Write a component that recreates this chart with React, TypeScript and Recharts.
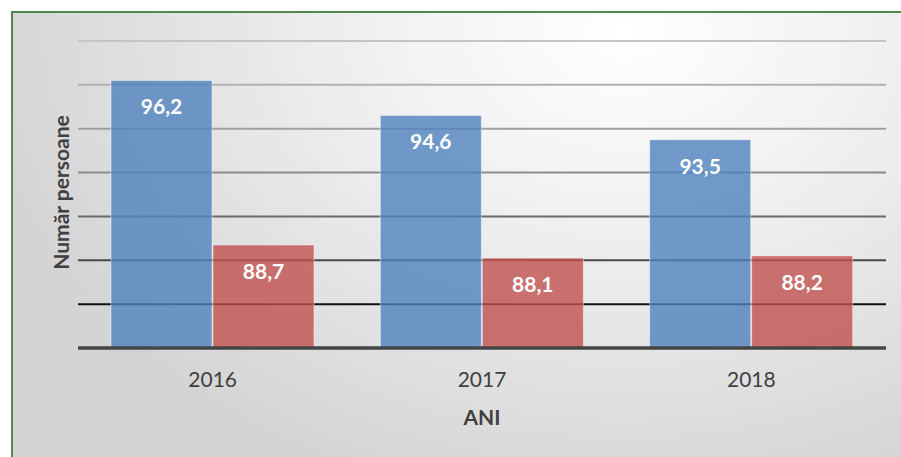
import { BarChart, Bar, XAxis, YAxis, CartesianGrid, LabelList } from "recharts";

const years = ["2016", "2017", "2018"];
const seriesA = [96.2, 94.6, 93.5];
const seriesB = [88.7, 88.1, 88.2];
const yTicks = [84, 86, 88, 90, 92, 94, 96, 98];

const data = years.map((year, i) => ({ year, a: seriesA[i], b: seriesB[i] }));

const FONT = "Lato, 'Open Sans', sans-serif";
const fmt = (v: any) => String(v).replace(".", ",");

// grid lines go from light gray at the top to near black at the bottom
const gridShade = (t: number) => {
    const stops: [number, number][] = [[0, 196], [0.5, 140], [0.83, 74], [1, 17]];
    for (let i = 1; i < stops.length; i++) {
        if (t <= stops[i][0]) {
            const [t0, c0] = stops[i - 1];
            const [t1, c1] = stops[i];
            const c = Math.round(c0 + ((c1 - c0) * (t - t0)) / (t1 - t0));
            return `rgb(${c},${c},${c})`;
        }
    }
    return "rgb(17,17,17)";
};

const GridLine = (p: any) => {
    const top = p.y ?? 41;
    const span = (p.height ?? 307) * (6 / 7);
    const t = Math.max(0, Math.min(1, (p.y1 - top) / span));
    return <line key={p.key} x1={p.x1} y1={p.y1} x2={p.x2} y2={p.y2} stroke={gridShade(t)} strokeWidth={2} />;
};

export default function App() {
    return (
        <div style={{ position: "fixed", left: 0, top: 0, width: 901, height: 457, overflow: "hidden", background: "#fff" }}>
            <div
                style={{
                    position: "absolute",
                    left: 11,
                    top: 11,
                    width: 900,
                    height: 460,
                    borderLeft: "2px solid #4e8a4e",
                    borderTop: "2px solid #4e8a4e",
                    background: "radial-gradient(ellipse 72% 105% at 68% 4%, #ffffff 0%, #eeeeee 45%, #d4d4d4 100%)",
                }}
            />
            <div style={{ position: "absolute", left: 0, top: 0 }}>
                <BarChart
                    width={901}
                    height={457}
                    data={data}
                    margin={{ top: 41, right: 15, bottom: 48, left: 0 }}
                    barSize={101}
                    barGap={1}
                >
                    <CartesianGrid vertical={false} horizontal={GridLine} />
                    <XAxis
                        dataKey="year"
                        height={61}
                        axisLine={{ stroke: "#454545", strokeWidth: 3.5 }}
                        tickLine={false}
                        tickMargin={18}
                        tick={{ fill: "#404040", fontSize: 21, fontFamily: FONT }}
                        label={{
                            value: "ANI",
                            position: "insideBottom",
                            offset: -16,
                            fill: "#404040",
                            fontSize: 21,
                            fontWeight: 700,
                            fontFamily: FONT,
                        }}
                    />
                    <YAxis
                        width={78}
                        domain={[84, 98]}
                        ticks={yTicks}
                        interval={0}
                        allowDataOverflow
                        tick={() => <g />}
                        tickLine={false}
                        axisLine={false}
                        label={{
                            content: (props: any) => {
                                const vb = props.viewBox || { x: 0, y: 41, width: 78, height: 307 };
                                const cx = vb.x + 60;
                                const cy = vb.y + vb.height / 2 - 2;
                                return (
                                    <text
                                        x={cx}
                                        y={cy}
                                        transform={`rotate(-90 ${cx} ${cy})`}
                                        textAnchor="middle"
                                        dominantBaseline="central"
                                        fill="#404040"
                                        fontSize={21}
                                        fontWeight={700}
                                        fontFamily={FONT}
                                    >
                                        Număr persoane
                                    </text>
                                );
                            },
                        }}
                    />
                    <Bar dataKey="a" fill="#4F81BD" fillOpacity={0.8} stroke="#ffffff" strokeOpacity={0.45} isAnimationActive={false}>
                        <LabelList dataKey="a" position="insideTop" offset={19} formatter={fmt} fill="#ffffff" fontSize={21} fontWeight={700} fontFamily={FONT} />
                    </Bar>
                    <Bar dataKey="b" fill="#C0504D" fillOpacity={0.8} stroke="#ffffff" strokeOpacity={0.45} isAnimationActive={false}>
                        <LabelList dataKey="b" position="insideTop" offset={19} formatter={fmt} fill="#ffffff" fontSize={21} fontWeight={700} fontFamily={FONT} />
                    </Bar>
                </BarChart>
            </div>
        </div>
    );
}
